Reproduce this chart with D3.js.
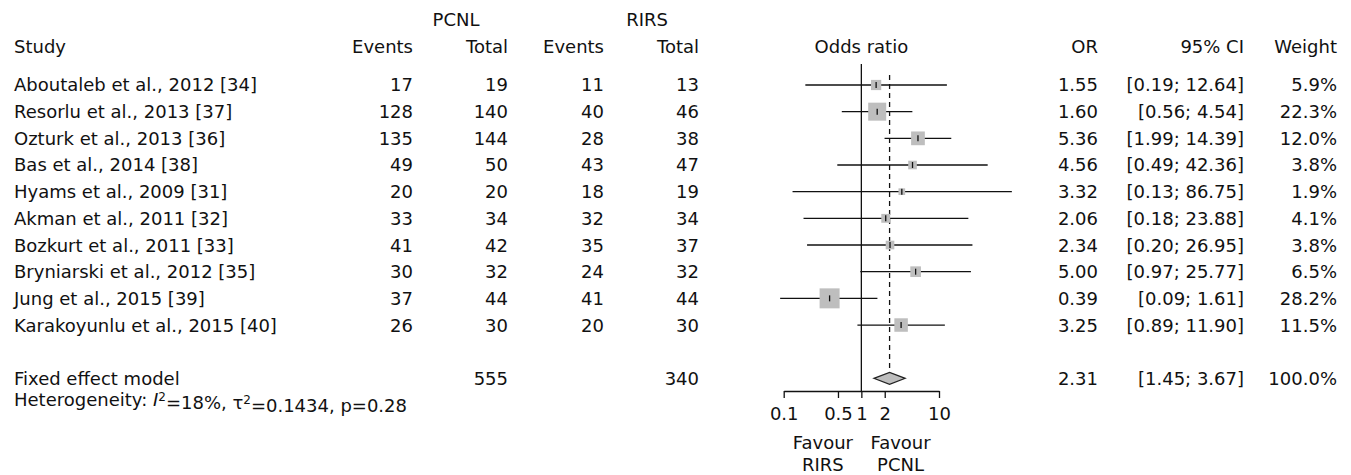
<!DOCTYPE html>
<html>
<head>
<meta charset="utf-8">
<script src="https://cdn.jsdelivr.net/npm/d3@7"></script>
<style>
  body { margin: 0; background: #fff; }
  text { font-family: "DejaVu Sans", sans-serif; font-size: 18px; fill: #111; }
</style>
</head>
<body>
<div id="chart"></div>
<script>
// study data
var studies = ["Aboutaleb et al., 2012 [34]", "Resorlu et al., 2013 [37]", "Ozturk et al., 2013 [36]",
  "Bas et al., 2014 [38]", "Hyams et al., 2009 [31]", "Akman et al., 2011 [32]", "Bozkurt et al., 2011 [33]",
  "Bryniarski et al., 2012 [35]", "Jung et al., 2015 [39]", "Karakoyunlu et al., 2015 [40]"];
var pcnlEvents = [17, 128, 135, 49, 20, 33, 41, 30, 37, 26];
var pcnlTotal = [19, 140, 144, 50, 20, 34, 42, 32, 44, 30];
var rirsEvents = [11, 40, 28, 43, 18, 32, 35, 24, 41, 20];
var rirsTotal = [13, 46, 38, 47, 19, 34, 37, 32, 44, 30];
var orVals = [1.55, 1.60, 5.36, 4.56, 3.32, 2.06, 2.34, 5.00, 0.39, 3.25];
var ciLow = [0.19, 0.56, 1.99, 0.49, 0.13, 0.18, 0.20, 0.97, 0.09, 0.89];
var ciHigh = [12.64, 4.54, 14.39, 42.36, 86.75, 23.88, 26.95, 25.77, 1.61, 11.90];
var weights = [5.9, 22.3, 12.0, 3.8, 1.9, 4.1, 3.8, 6.5, 28.2, 11.5];

// pooled (fixed effect) result
var pooled = { or: 2.31, low: 1.45, high: 3.67, weight: 100.0, pcnlTotal: 555, rirsTotal: 340 };
var tickVals = [0.1, 0.5, 1, 2, 10];

var w = 1351, h = 475;

var svg = d3.select("#chart")
  .append("svg")
  .attr("width", w)
  .attr("height", h);

// rows
var rowY = function(i) { return 85 + i * 26.67; };
var fixedY = rowY(11);

// columns (right edges)
var col = { study: 14, pcnlEv: 413, pcnlTot: 508, rirsEv: 604, rirsTot: 699, or: 1098, ci: 1244, wt: 1337 };

var f2 = d3.format(".2f"), f1 = d3.format(".1f");

// x scale for odds ratio
var x = d3.scaleLog().domain([0.1, 10]).range([783.7, 939]);
var size = d3.scaleSqrt().domain([0, 28.2]).range([2, 20]);

// headers
svg.append("text").attr("x", 456).attr("y", 20).attr("dy", "0.36em").attr("text-anchor", "middle").text("PCNL");
svg.append("text").attr("x", 647).attr("y", 20).attr("dy", "0.36em").attr("text-anchor", "middle").text("RIRS");
var headers = [
  { t: "Study", x: col.study, a: "start" },
  { t: "Events", x: col.pcnlEv, a: "end" },
  { t: "Total", x: col.pcnlTot, a: "end" },
  { t: "Events", x: col.rirsEv, a: "end" },
  { t: "Total", x: col.rirsTot, a: "end" },
  { t: "Odds ratio", x: x(1), a: "middle" },
  { t: "OR", x: col.or, a: "end" },
  { t: "95% CI", x: col.ci, a: "end" },
  { t: "Weight", x: col.wt, a: "end" }
];
svg.selectAll(".hdr")
  .data(headers)
  .enter()
  .append("text")
  .attr("x", function(d) { return d.x; })
  .attr("y", 47)
  .attr("dy", "0.36em")
  .attr("text-anchor", function(d) { return d.a; })
  .text(function(d) { return d.t; });

// table text for each study
var rows = svg.selectAll(".row")
  .data(studies)
  .enter()
  .append("g")
  .attr("transform", function(d, i) { return "translate(0," + rowY(i) + ")"; });

function addCol(xpos, anchor, fn) {
  rows.append("text")
    .attr("x", xpos)
    .attr("dy", "0.36em")
    .attr("text-anchor", anchor)
    .text(fn);
}
addCol(col.study, "start", function(d) { return d; });
addCol(col.pcnlEv, "end", function(d, i) { return pcnlEvents[i]; });
addCol(col.pcnlTot, "end", function(d, i) { return pcnlTotal[i]; });
addCol(col.rirsEv, "end", function(d, i) { return rirsEvents[i]; });
addCol(col.rirsTot, "end", function(d, i) { return rirsTotal[i]; });
addCol(col.or, "end", function(d, i) { return f2(orVals[i]); });
addCol(col.ci, "end", function(d, i) { return "[" + f2(ciLow[i]) + "; " + f2(ciHigh[i]) + "]"; });
addCol(col.wt, "end", function(d, i) { return f1(weights[i]) + "%"; });

// fixed effect row
var fixedText = [
  { t: "Fixed effect model", x: col.study, a: "start" },
  { t: pooled.pcnlTotal, x: col.pcnlTot, a: "end" },
  { t: pooled.rirsTotal, x: col.rirsTot, a: "end" },
  { t: f2(pooled.or), x: col.or, a: "end" },
  { t: "[" + f2(pooled.low) + "; " + f2(pooled.high) + "]", x: col.ci, a: "end" },
  { t: f1(pooled.weight) + "%", x: col.wt, a: "end" }
];
svg.selectAll(".fix")
  .data(fixedText)
  .enter()
  .append("text")
  .attr("x", function(d) { return d.x; })
  .attr("y", fixedY)
  .attr("dy", "0.36em")
  .attr("text-anchor", function(d) { return d.a; })
  .text(function(d) { return d.t; });

// heterogeneity line
var het = svg.append("text").attr("x", col.study).attr("y", 400).attr("dy", "0.36em");
het.append("tspan").text("Heterogeneity: ");
het.append("tspan").style("font-style", "italic").text("I");
het.append("tspan").attr("dy", "-0.45em").style("font-size", "12px").text("2");
het.append("tspan").attr("dy", "0.45em").text("=18%, \u03c4");
het.append("tspan").attr("dy", "-0.45em").style("font-size", "12px").text("2");
het.append("tspan").attr("dy", "0.45em").text("=0.1434, p=0.28");

// reference line at OR = 1
svg.append("line")
  .attr("x1", x(1)).attr("x2", x(1))
  .attr("y1", 64).attr("y2", 391)
  .attr("stroke", "#111").attr("stroke-width", 1.3);

// pooled estimate dashed line
svg.append("line")
  .attr("x1", x(pooled.or)).attr("x2", x(pooled.or))
  .attr("y1", 75).attr("y2", fixedY - 6)
  .attr("stroke", "#111").attr("stroke-width", 1.3)
  .attr("stroke-dasharray", "5,4");

// CI lines
svg.selectAll(".ci")
  .data(studies)
  .enter()
  .append("line")
  .attr("x1", function(d, i) { return x(ciLow[i]); })
  .attr("x2", function(d, i) { return x(ciHigh[i]); })
  .attr("y1", function(d, i) { return rowY(i); })
  .attr("y2", function(d, i) { return rowY(i); })
  .attr("stroke", "#111").attr("stroke-width", 1.3);

// weight squares
svg.selectAll(".sq")
  .data(studies)
  .enter()
  .append("rect")
  .attr("x", function(d, i) { return x(orVals[i]) - size(weights[i]) / 2; })
  .attr("y", function(d, i) { return rowY(i) - size(weights[i]) / 2; })
  .attr("width", function(d, i) { return size(weights[i]); })
  .attr("height", function(d, i) { return size(weights[i]); })
  .attr("fill", "#bebebe");

// point estimate ticks
svg.selectAll(".tk")
  .data(studies)
  .enter()
  .append("line")
  .attr("x1", function(d, i) { return x(orVals[i]); })
  .attr("x2", function(d, i) { return x(orVals[i]); })
  .attr("y1", function(d, i) { return rowY(i) - 3; })
  .attr("y2", function(d, i) { return rowY(i) + 3; })
  .attr("stroke", "#111").attr("stroke-width", 1.3);

// diamond
svg.append("polygon")
  .attr("points", [
    [x(pooled.low), fixedY], [x(pooled.or), fixedY - 6],
    [x(pooled.high), fixedY], [x(pooled.or), fixedY + 6]
  ].map(function(p) { return p.join(","); }).join(" "))
  .attr("fill", "#bebebe")
  .attr("stroke", "#222").attr("stroke-width", 1.2);

// x axis
var axis = svg.append("g")
  .attr("transform", "translate(0,391)")
  .call(d3.axisBottom(x).tickValues(tickVals).tickFormat(d3.format("")).tickSize(7).tickSizeOuter(0).tickPadding(9));
axis.select(".domain").attr("stroke", "#111").attr("stroke-width", 1.3);
axis.selectAll(".tick line").attr("stroke", "#111").attr("stroke-width", 1.3);
axis.selectAll("text").attr("font-family", "DejaVu Sans").attr("font-size", "18px").attr("fill", "#111");

// favour labels
var fav = [{ x: x(0.32), a: "Favour", b: "RIRS" }, { x: x(3.2), a: "Favour", b: "PCNL" }];
fav.forEach(function(d) {
  svg.append("text").attr("x", d.x).attr("y", 443).attr("dy", "0.36em").attr("text-anchor", "middle").text(d.a);
  svg.append("text").attr("x", d.x).attr("y", 465).attr("dy", "0.36em").attr("text-anchor", "middle").text(d.b);
});
</script>
</body>
</html>
